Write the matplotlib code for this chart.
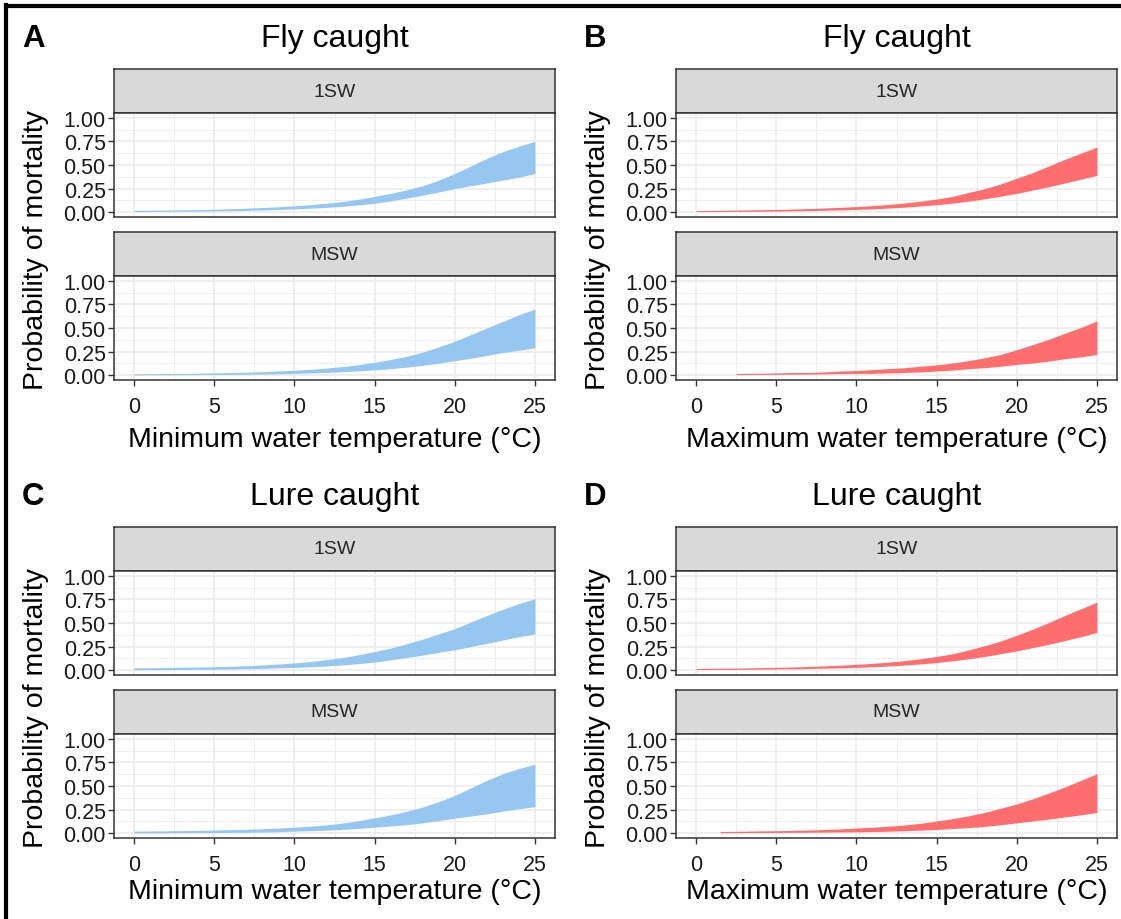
import matplotlib
matplotlib.use("Agg")
import matplotlib.pyplot as plt
from matplotlib.ticker import MultipleLocator
import numpy as np

plt.rcParams['font.family'] = ['Liberation Sans', 'DejaVu Sans']

# ---------------- data ----------------
temps_full = list(range(0, 26))
temps_b_msw = [2.5] + list(range(3, 26))
temps_d_msw = [1.5] + list(range(2, 26))

# A: Fly caught, minimum water temperature
a_1sw_lo = [0.008, 0.009, 0.010, 0.011, 0.013, 0.015, 0.017, 0.020, 0.024, 0.030, 0.035, 0.043, 0.052,
            0.063, 0.078, 0.095, 0.120, 0.150, 0.180, 0.215, 0.250, 0.280, 0.310, 0.340, 0.370, 0.410]
a_1sw_hi = [0.020, 0.022, 0.024, 0.026, 0.029, 0.032, 0.037, 0.043, 0.050, 0.058, 0.068, 0.080, 0.095,
            0.113, 0.138, 0.168, 0.200, 0.237, 0.280, 0.340, 0.410, 0.490, 0.570, 0.640, 0.700, 0.750]
a_msw_lo = [0.004, 0.005, 0.005, 0.006, 0.007, 0.008, 0.009, 0.011, 0.013, 0.016, 0.020, 0.024, 0.030,
            0.037, 0.046, 0.057, 0.070, 0.086, 0.105, 0.128, 0.155, 0.180, 0.210, 0.240, 0.265, 0.290]
a_msw_hi = [0.015, 0.016, 0.018, 0.020, 0.022, 0.025, 0.028, 0.033, 0.038, 0.045, 0.053, 0.063, 0.076,
            0.092, 0.112, 0.137, 0.167, 0.200, 0.245, 0.300, 0.360, 0.430, 0.500, 0.570, 0.640, 0.700]

# B: Fly caught, maximum water temperature
b_1sw_lo = [0.007, 0.008, 0.009, 0.010, 0.011, 0.013, 0.015, 0.018, 0.021, 0.025, 0.030, 0.036, 0.044,
            0.054, 0.066, 0.080, 0.097, 0.118, 0.142, 0.170, 0.200, 0.235, 0.270, 0.310, 0.350, 0.390]
b_1sw_hi = [0.018, 0.020, 0.022, 0.024, 0.027, 0.030, 0.034, 0.039, 0.045, 0.052, 0.060, 0.070, 0.083,
            0.098, 0.117, 0.140, 0.168, 0.210, 0.250, 0.300, 0.360, 0.420, 0.490, 0.560, 0.625, 0.690]
b_msw_lo = [0.008, 0.008, 0.010, 0.010, 0.012, 0.012, 0.015, 0.018, 0.020, 0.020, 0.025, 0.030,
            0.035, 0.045, 0.055, 0.070, 0.080, 0.095, 0.115, 0.130, 0.150, 0.175, 0.195, 0.220]
b_msw_hi = [0.020, 0.020, 0.022, 0.025, 0.030, 0.030, 0.035, 0.045, 0.050, 0.060, 0.070, 0.080,
            0.095, 0.110, 0.130, 0.155, 0.185, 0.220, 0.270, 0.325, 0.380, 0.445, 0.505, 0.575]

# C: Lure caught, minimum water temperature
c_1sw_lo = [0.005, 0.006, 0.007, 0.008, 0.010, 0.011, 0.014, 0.017, 0.020, 0.025, 0.030, 0.037, 0.045,
            0.056, 0.070, 0.086, 0.110, 0.135, 0.160, 0.190, 0.216, 0.250, 0.285, 0.320, 0.355, 0.384]
c_1sw_hi = [0.025, 0.027, 0.029, 0.032, 0.034, 0.037, 0.042, 0.048, 0.056, 0.066, 0.078, 0.093, 0.112,
            0.135, 0.164, 0.198, 0.235, 0.280, 0.330, 0.385, 0.440, 0.510, 0.580, 0.645, 0.705, 0.757]
c_msw_lo = [0.004, 0.005, 0.005, 0.006, 0.007, 0.008, 0.009, 0.011, 0.013, 0.017, 0.023, 0.027, 0.033,
            0.041, 0.052, 0.064, 0.077, 0.092, 0.110, 0.135, 0.160, 0.182, 0.205, 0.235, 0.260, 0.280]
c_msw_hi = [0.023, 0.024, 0.026, 0.028, 0.031, 0.034, 0.038, 0.042, 0.048, 0.055, 0.064, 0.075, 0.088,
            0.108, 0.133, 0.163, 0.195, 0.232, 0.278, 0.335, 0.400, 0.480, 0.560, 0.630, 0.685, 0.730]

# D: Lure caught, maximum water temperature
d_1sw_lo = [0.007, 0.008, 0.009, 0.010, 0.012, 0.014, 0.016, 0.019, 0.022, 0.026, 0.031, 0.037, 0.045,
            0.055, 0.067, 0.082, 0.100, 0.121, 0.146, 0.175, 0.205, 0.240, 0.275, 0.315, 0.355, 0.400]
d_1sw_hi = [0.019, 0.021, 0.023, 0.025, 0.028, 0.031, 0.035, 0.040, 0.046, 0.054, 0.063, 0.073, 0.086,
            0.102, 0.122, 0.146, 0.175, 0.215, 0.260, 0.310, 0.370, 0.435, 0.505, 0.580, 0.650, 0.720]
d_msw_lo = [0.006, 0.007, 0.007, 0.008, 0.009, 0.010, 0.011, 0.012, 0.014, 0.015, 0.018, 0.022,
            0.027, 0.033, 0.040, 0.050, 0.060, 0.072, 0.090, 0.110, 0.130, 0.150, 0.172, 0.195, 0.220]
d_msw_hi = [0.018, 0.020, 0.022, 0.025, 0.027, 0.030, 0.034, 0.040, 0.046, 0.055, 0.064, 0.075,
            0.088, 0.105, 0.130, 0.155, 0.185, 0.220, 0.265, 0.310, 0.365, 0.425, 0.490, 0.560, 0.630]

panel_letters = ["A", "B", "C", "D"]
panel_titles = ["Fly caught", "Fly caught", "Lure caught", "Lure caught"]
x_labels = ["Minimum water temperature (\u00b0C)", "Maximum water temperature (\u00b0C)",
            "Minimum water temperature (\u00b0C)", "Maximum water temperature (\u00b0C)"]
facet_labels = ["1SW", "MSW"]
y_label = "Probability of mortality"
y_ticks = [0.0, 0.25, 0.5, 0.75, 1.0]
y_tick_labels = ["0.00", "0.25", "0.50", "0.75", "1.00"]
x_ticks = [0, 5, 10, 15, 20, 25]

series = [
    [(temps_full, a_1sw_lo, a_1sw_hi), (temps_full, a_msw_lo, a_msw_hi)],
    [(temps_full, b_1sw_lo, b_1sw_hi), (temps_b_msw, b_msw_lo, b_msw_hi)],
    [(temps_full, c_1sw_lo, c_1sw_hi), (temps_full, c_msw_lo, c_msw_hi)],
    [(temps_full, d_1sw_lo, d_1sw_hi), (temps_d_msw, d_msw_lo, d_msw_hi)],
]
fill_colors = ["#8FC4F0", "#FF6666", "#8FC4F0", "#FF6666"]

# ---------------- layout ----------------
W, H = 1121, 920
fig = plt.figure(figsize=(W / 100, H / 100), dpi=100)

def rect(x0, y0, x1, y1):
    return [x0 / W, 1 - y1 / H, (x1 - x0) / W, (y1 - y0) / H]

col_x = [(114, 555), (676, 1117)]
row_off = [0, 458]
title_y = [39, 497]
xlabel_pad = [6.5, 2.5]
border_col = "#333333"
grid_col = "#EBEBEB"

for p in range(4):
    r, c = divmod(p, 2)
    x0, x1 = col_x[c]
    dy = row_off[r]
    strips = [(70 + dy, 114 + dy), (233 + dy, 277 + dy)]
    plots = [(114 + dy, 218 + dy), (277 + dy, 381 + dy)]
    for f in range(2):
        # strip
        sy0, sy1 = strips[f]
        sax = fig.add_axes(rect(x0, sy0, x1, sy1))
        sax.set_facecolor("#D9D9D9")
        sax.set_xticks([]); sax.set_yticks([])
        for s in sax.spines.values():
            s.set_color(border_col); s.set_linewidth(1.1)
        sax.text(0.5, 0.5, facet_labels[f], ha="center", va="center",
                 fontsize=14, color="#262626", transform=sax.transAxes)
        # plot
        py0, py1 = plots[f]
        ax = fig.add_axes(rect(x0, py0, x1, py1))
        ax.set_xlim(-1.25, 26.25)
        ax.set_ylim(-0.05, 1.05)
        ax.set_xticks(x_ticks)
        ax.xaxis.set_minor_locator(MultipleLocator(2.5))
        ax.set_yticks(y_ticks)
        ax.set_yticklabels(y_tick_labels)
        ax.yaxis.set_minor_locator(MultipleLocator(0.125))
        ax.grid(True, which="major", color=grid_col, lw=1.1, zorder=0)
        ax.grid(True, which="minor", color=grid_col, lw=0.6, zorder=0)
        ax.set_axisbelow(True)
        ax.tick_params(which="minor", length=0)
        ax.tick_params(axis="y", which="major", length=4, width=1, color=border_col,
                       labelsize=15.5, labelcolor="#1A1A1A", pad=2)
        if f == 0:
            ax.tick_params(axis="x", which="major", length=0, labelbottom=False)
        else:
            ax.tick_params(axis="x", which="major", length=4, width=1, color=border_col,
                           labelsize=15.5, labelcolor="#1A1A1A", pad=7.5)
        for s in ax.spines.values():
            s.set_color(border_col); s.set_linewidth(1.1)
        xs, lo, hi = series[p][f]
        ax.fill_between(xs, lo, hi, color=fill_colors[p], alpha=0.95,
                        linewidth=0, zorder=2)
        if f == 1:
            ax.set_xlabel(x_labels[p], fontsize=20.5, labelpad=xlabel_pad[r])
    # title + letter
    fig.text((x0 + x1) / 2 / W, 1 - title_y[r] / H, panel_titles[p], ha="center",
             va="center", fontsize=23)
    fig.text((22 + 562 * c) / W, 1 - title_y[r] / H, panel_letters[p], ha="left",
             va="center", fontsize=22.5, fontweight="bold")
    # shared y label across the two facets
    fig.text((36 + 562 * c) / W, 1 - (250 + dy) / H, y_label, rotation=90,
             ha="center", va="center", fontsize=20.5)

# outer frame (left and top edges visible)
fig.add_artist(plt.Line2D([6 / W, 6 / W], [0, 1 - 6 / H], color="black", lw=3,
                          transform=fig.transFigure))
fig.add_artist(plt.Line2D([6 / W, 1], [1 - 7 / H, 1 - 7 / H], color="black", lw=3,
                          transform=fig.transFigure))

fig.savefig("out.png", dpi=100)
